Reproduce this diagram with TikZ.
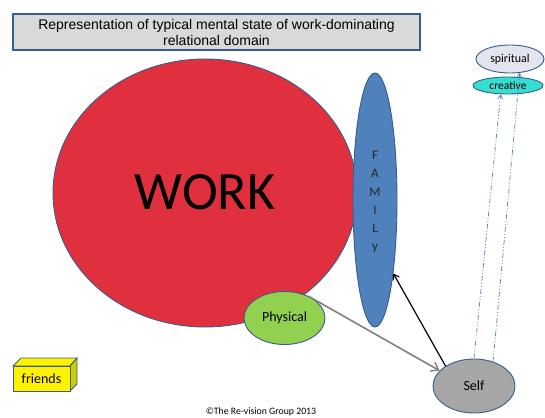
\documentclass[tikz,border=0pt]{standalone}
\usepackage{fontspec}
\setmainfont{Carlito}
\newfontfamily\arialf{Liberation Sans}
\usetikzlibrary{shapes.geometric,arrows.meta}
\definecolor{edgeblue}{HTML}{385D8A}
\definecolor{workred}{HTML}{E1303D}
\definecolor{famblue}{HTML}{4F81BD}
\definecolor{physgreen}{HTML}{92D050}
\definecolor{selfgray}{HTML}{A6A6A6}
\definecolor{spirfill}{HTML}{E4E4EE}
\definecolor{creafill}{HTML}{36DDD2}
\definecolor{titlegray}{HTML}{D9D9D9}
\definecolor{dashblue}{HTML}{4F81BD}
\definecolor{yelside}{HTML}{CCCC00}
\tikzset{
  blob/.style={ellipse, draw=edgeblue, line width=0.9pt, inner sep=0pt},
  dashlink/.style={draw=dashblue, line width=0.7pt,
    dash pattern=on 5pt off 2pt on 1pt off 2pt on 1pt off 2pt,
    -{Straight Barb[length=4pt,width=5pt,line width=0.6pt]}},
  grayarrow/.style={draw=gray, line width=1.6pt,
    -{Straight Barb[length=7pt,width=10pt,line width=1.4pt]}},
  blackarrow/.style={draw=black, line width=1.2pt,
    -{Straight Barb[length=5pt,width=7pt,line width=1.1pt]}},
}
\begin{document}
\begin{tikzpicture}[x=1pt,y=-1pt]
\useasboundingbox (0,0) rectangle (545,417);
% title
\draw[fill=titlegray, draw=edgeblue, line width=1.1pt] (13,14) rectangle (420,50);
\node[align=center, font=\arialf\fontsize{14}{16.5}\selectfont] (title) at (216.5,32.5)
  {Representation of typical mental state of work-dominating\\relational domain};
% main shapes
\node[blob, fill=workred, minimum width=304pt, minimum height=268pt] (work) at (205,193) {};
\node[font=\fontsize{54}{54}\selectfont] (worklabel) at (205,192) {WORK};
\node[blob, fill=famblue, minimum width=44pt, minimum height=254pt] (family) at (375,200) {};
\node[align=center, font=\fontsize{13}{18.2}\selectfont, text=black!85] (famlabel) at (375,202) {F\\A\\M\\I\\L\\y};
\node[blob, fill=physgreen, minimum width=81pt, minimum height=53pt,
  font=\fontsize{14}{16}\selectfont] (phys) at (284.5,318) {Physical};
\node[blob, fill=selfgray, minimum width=82pt, minimum height=54pt,
  font=\fontsize{14}{16}\selectfont] (self) at (474,386) {Self};
\node[blob, fill=spirfill, minimum width=68pt, minimum height=28pt,
  font=\fontsize{12}{14}\selectfont] (spir) at (510,59) {spiritual};
\node[blob, fill=creafill, minimum width=70pt, minimum height=17pt,
  font=\fontsize{11.5}{13}\selectfont] (crea) at (508,85.5) {creative};
% friends box
\draw[draw=edgeblue, line width=0.9pt, fill=yellow] (13,366) -- (21,358) -- (77,358) -- (70,366) -- cycle;
\draw[draw=edgeblue, line width=0.9pt, fill=yelside] (70,366) -- (77,358) -- (77,384) -- (70,391) -- cycle;
\draw[draw=edgeblue, line width=0.9pt, fill=yellow] (13,366) rectangle (70,391);
\node[font=\fontsize{14}{16}\selectfont] (friends) at (41.5,378.5) {friends};
% connectors
\draw[grayarrow] (phys.43) -- (self.156);
\draw[blackarrow] (self.145) -- (family.-76);
\draw[dashlink] (self.90) -- (crea.-130);
\draw[dashlink] (self.52) -- (spir.-55);
% footer
\node[font=\fontsize{9.8}{11}\selectfont] (copy) at (261,412) {©The Re-vision Group 2013};
\end{tikzpicture}
\end{document}
